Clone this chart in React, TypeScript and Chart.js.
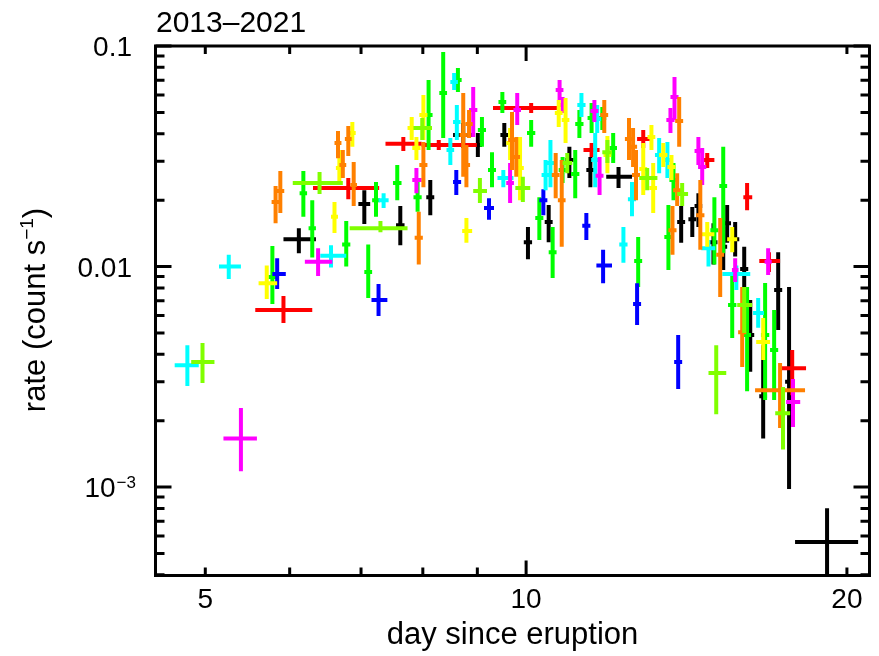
import React, { useEffect, useRef } from "react";
import {
  Chart,
  ScatterController,
  PointElement,
  LinearScale,
  LogarithmicScale,
} from "chart.js";

Chart.register(ScatterController, PointElement, LinearScale, LogarithmicScale);

// Each observation: [day, dayLo, dayHi, rate, rateLo, rateHi]
type Obs = [number, number, number, number, number, number];

const obs2013: Obs[] = [
  [6.12, 5.92, 6.35, 0.0133, 0.0115, 0.0149],
  [7.05, 6.96, 7.14, 0.0192, 0.0156, 0.0222],
  [7.62, 7.55, 7.69, 0.0154, 0.0125, 0.0188],
  [8.13, 8.06, 8.2, 0.0206, 0.0171, 0.0247],
  [8.73, 8.54, 8.9, 0.0395, 0.0345, 0.0448],
  [9.01, 8.94, 9.09, 0.0356, 0.0314, 0.0403],
  [9.54, 9.46, 9.62, 0.0395, 0.0349, 0.0448],
  [10.04, 9.95, 10.13, 0.0129, 0.0108, 0.0151],
  [10.5, 10.41, 10.59, 0.0159, 0.0129, 0.019],
  [10.98, 10.88, 11.08, 0.0304, 0.0252, 0.0349],
  [11.49, 11.39, 11.59, 0.0274, 0.0229, 0.0314],
  [12.21, 11.89, 12.57, 0.0255, 0.0227, 0.0283],
  [13.98, 13.86, 14.1, 0.0159, 0.0128, 0.0188],
  [14.32, 14.2, 14.44, 0.0164, 0.0136, 0.0186],
  [14.51, 14.39, 14.63, 0.0188, 0.0151, 0.0215],
  [14.99, 14.86, 15.12, 0.0129, 0.0102, 0.0157],
  [15.31, 15.18, 15.44, 0.0123, 0.00964, 0.0151],
  [15.44, 15.31, 15.57, 0.0157, 0.0128, 0.019],
  [15.71, 15.57, 15.85, 0.0133, 0.0111, 0.0159],
  [16.02, 15.88, 16.16, 0.00974, 0.00705, 0.0123],
  [16.23, 16.09, 16.37, 0.00489, 0.00333, 0.00705],
  [16.69, 16.55, 16.83, 0.00258, 0.00166, 0.0044],
  [17.24, 17.09, 17.39, 0.00782, 0.00515, 0.0116],
  [17.65, 17.5, 17.8, 0.003, 0.00098, 0.00807],
  [19.16, 17.88, 20.49, 0.000563, 0.00039, 0.000801],
];

const obs2014: Obs[] = [
  [5.92, 5.57, 6.3, 0.00635, 0.00555, 0.00735],
  [6.81, 6.31, 7.28, 0.0227, 0.0202, 0.0252],
  [7.67, 7.38, 7.98, 0.036, 0.0334, 0.0387],
  [8.28, 7.98, 8.99, 0.0356, 0.0338, 0.0375],
  [10.11, 9.31, 10.7, 0.0523, 0.0497, 0.0551],
  [11.52, 11.32, 11.72, 0.0338, 0.0314, 0.0363],
  [12.88, 12.71, 13.08, 0.0379, 0.0345, 0.0416],
  [14.79, 14.63, 15.02, 0.0304, 0.028, 0.0327],
  [16.12, 15.99, 16.3, 0.0206, 0.018, 0.0239],
  [16.9, 16.55, 17.31, 0.0106, 0.00945, 0.0116],
  [17.77, 17.27, 18.31, 0.00346, 0.00261, 0.00418],
];

const obs2015: Obs[] = [
  [5.78, 5.73, 5.83, 0.00896, 0.00676, 0.0124],
  [6.18, 6.13, 6.23, 0.0215, 0.0168, 0.0271],
  [6.3, 6.25, 6.35, 0.0149, 0.011, 0.02],
  [6.78, 6.72, 6.84, 0.0126, 0.01, 0.0161],
  [7.11, 7.05, 7.17, 0.00945, 0.0072, 0.0126],
  [7.23, 7.17, 7.29, 0.02, 0.0168, 0.0242],
  [7.57, 7.5, 7.64, 0.0239, 0.02, 0.0289],
  [7.91, 7.84, 7.98, 0.0206, 0.0177, 0.0242],
  [8.1, 8.03, 8.17, 0.0487, 0.0338, 0.0701],
  [8.36, 8.29, 8.43, 0.0612, 0.0383, 0.094],
  [8.63, 8.56, 8.7, 0.0701, 0.0618, 0.0795],
  [9.09, 9.01, 9.17, 0.0416, 0.0349, 0.0477],
  [9.29, 9.21, 9.37, 0.0274, 0.0229, 0.033],
  [9.5, 9.42, 9.58, 0.0557, 0.0497, 0.0618],
  [10.11, 10.02, 10.2, 0.0403, 0.0349, 0.0462],
  [10.29, 10.2, 10.38, 0.0166, 0.0132, 0.0206],
  [10.59, 10.5, 10.68, 0.0116, 0.00887, 0.0151],
  [10.82, 10.73, 10.91, 0.0274, 0.0239, 0.0314],
  [11.12, 11.02, 11.22, 0.0263, 0.0204, 0.0338],
  [11.22, 11.12, 11.32, 0.0443, 0.0383, 0.0513],
  [11.52, 11.42, 11.62, 0.0472, 0.0403, 0.0551],
  [11.79, 11.69, 11.89, 0.0472, 0.0416, 0.0529],
  [12.07, 11.97, 12.17, 0.0345, 0.0295, 0.0403],
  [12.74, 12.63, 12.85, 0.0106, 0.00807, 0.0136],
  [13.6, 13.48, 13.72, 0.0136, 0.00964, 0.019],
  [13.75, 13.63, 13.87, 0.0247, 0.02, 0.0295],
  [15.02, 14.89, 15.15, 0.0146, 0.0102, 0.0206],
  [15.31, 15.18, 15.44, 0.0232, 0.0115, 0.0349],
  [15.61, 15.47, 15.75, 0.00669, 0.00474, 0.00935],
  [16.12, 15.98, 16.26, 0.00489, 0.00272, 0.00807],
  [16.76, 16.61, 16.91, 0.00489, 0.00248, 0.00842],
  [17.09, 16.94, 17.24, 0.00418, 0.00248, 0.00635],
];

const obs2016: Obs[] = [
  [5.84, 5.78, 5.95, 0.00925, 0.0079, 0.0109],
  [7.27, 7.16, 7.41, 0.00705, 0.00597, 0.00833],
  [8.6, 8.54, 8.69, 0.0242, 0.0211, 0.0274],
  [9.23, 9.13, 9.33, 0.0184, 0.0163, 0.0204],
  [10.38, 10.29, 10.47, 0.02, 0.0171, 0.0224],
  [11.39, 11.29, 11.49, 0.0153, 0.0132, 0.0175],
  [11.81, 11.64, 12.04, 0.0101, 0.0084, 0.0119],
  [12.71, 12.6, 12.82, 0.00676, 0.00543, 0.0084],
  [13.89, 13.77, 14.01, 0.00369, 0.00278, 0.00489],
];

const obs2017: Obs[] = [
  [4.81, 4.68, 4.93, 0.00357, 0.00287, 0.0044],
  [5.26, 5.15, 5.4, 0.01, 0.00878, 0.0113],
  [6.56, 6.41, 6.78, 0.0112, 0.0099, 0.0125],
  [7.35, 7.27, 7.43, 0.02, 0.0184, 0.0215],
  [8.49, 8.42, 8.56, 0.0338, 0.0289, 0.0383],
  [8.56, 8.49, 8.63, 0.0687, 0.0632, 0.0754],
  [8.61, 8.54, 8.68, 0.0452, 0.0375, 0.054],
  [9.52, 9.4, 9.73, 0.0252, 0.0229, 0.0274],
  [10.43, 10.34, 10.52, 0.026, 0.0222, 0.0304],
  [10.54, 10.45, 10.63, 0.0295, 0.0229, 0.0375],
  [11.27, 11.17, 11.37, 0.054, 0.0477, 0.0612],
  [11.61, 11.51, 11.71, 0.0304, 0.0229, 0.0403],
  [11.66, 11.56, 11.76, 0.0467, 0.0403, 0.054],
  [12.34, 12.23, 12.45, 0.0126, 0.0104, 0.0151],
  [12.57, 12.46, 12.68, 0.0202, 0.0169, 0.0242],
  [13.33, 13.21, 13.45, 0.032, 0.0265, 0.0383],
  [13.57, 13.45, 13.69, 0.0304, 0.0252, 0.0367],
  [14.83, 14.6, 15.05, 0.0121, 0.01, 0.0132],
  [15.75, 15.28, 16.23, 0.00925, 0.00782, 0.0101],
  [16.51, 16.33, 16.72, 0.00616, 0.00527, 0.0072],
];

const obs2018: Obs[] = [
  [5.4, 5.2, 5.59, 0.00166, 0.00118, 0.00228],
  [6.38, 6.2, 6.58, 0.0105, 0.00906, 0.0121],
  [7.89, 7.82, 7.98, 0.0247, 0.0215, 0.028],
  [8.92, 8.84, 9.0, 0.0513, 0.0387, 0.0652],
  [9.66, 9.58, 9.74, 0.0239, 0.0194, 0.0295],
  [9.81, 9.73, 9.89, 0.0513, 0.0438, 0.0612],
  [10.75, 10.66, 10.84, 0.0632, 0.0569, 0.0701],
  [10.82, 10.73, 10.91, 0.054, 0.0497, 0.0587],
  [11.59, 11.49, 11.69, 0.0507, 0.0452, 0.0569],
  [11.72, 11.62, 11.82, 0.0258, 0.0211, 0.0314],
  [13.66, 13.54, 13.78, 0.0462, 0.0403, 0.0523],
  [13.78, 13.66, 13.9, 0.0587, 0.0462, 0.0724],
  [14.51, 14.39, 14.63, 0.0334, 0.0289, 0.0387],
  [14.63, 14.5, 14.76, 0.0283, 0.0234, 0.0345],
  [15.71, 15.6, 15.82, 0.00964, 0.00851, 0.0109],
  [16.87, 16.74, 17.0, 0.0105, 0.00915, 0.0121],
  [17.8, 17.54, 18.08, 0.00243, 0.00187, 0.00309],
];

const obs2019: Obs[] = [
  [5.71, 5.61, 5.84, 0.0084, 0.00712, 0.0101],
  [6.61, 6.56, 6.66, 0.0168, 0.0142, 0.0196],
  [6.68, 6.63, 6.73, 0.028, 0.0239, 0.0338],
  [6.87, 6.82, 6.92, 0.0403, 0.0349, 0.0452],
  [7.81, 7.74, 7.88, 0.0425, 0.0375, 0.0477],
  [7.89, 7.82, 7.96, 0.0345, 0.0304, 0.0387],
  [8.01, 7.94, 8.08, 0.0487, 0.0375, 0.0599],
  [8.79, 8.71, 8.9, 0.0145, 0.0128, 0.0166],
  [9.66, 9.58, 9.74, 0.0363, 0.0304, 0.0425],
  [9.87, 9.79, 9.95, 0.028, 0.02, 0.0387],
  [10.73, 10.64, 10.82, 0.0497, 0.0429, 0.0569],
  [10.89, 10.8, 10.98, 0.0462, 0.0363, 0.0581],
  [11.92, 11.82, 12.02, 0.032, 0.0265, 0.0391],
  [12.88, 12.77, 12.99, 0.0277, 0.0211, 0.0363],
  [13.11, 13.0, 13.22, 0.0387, 0.0338, 0.0438],
  [13.16, 13.05, 13.27, 0.0227, 0.0175, 0.0295],
  [13.45, 13.33, 13.57, 0.032, 0.0283, 0.0363],
  [13.69, 13.57, 13.81, 0.0283, 0.0247, 0.032],
  [14.79, 14.57, 15.02, 0.014, 0.0123, 0.0159],
  [15.61, 15.44, 15.78, 0.0133, 0.0116, 0.0151],
  [16.69, 16.44, 16.94, 0.00455, 0.00377, 0.00584],
];

const obs2020: Obs[] = [
  [5.82, 5.77, 5.87, 0.0196, 0.0157, 0.0232],
  [5.88, 5.83, 5.93, 0.022, 0.0175, 0.0271],
  [6.66, 6.61, 6.71, 0.0363, 0.031, 0.0412],
  [6.73, 6.68, 6.78, 0.0289, 0.0252, 0.0338],
  [6.81, 6.76, 6.86, 0.0379, 0.0317, 0.0434],
  [6.89, 6.84, 6.94, 0.0234, 0.0188, 0.0298],
  [7.93, 7.86, 8.0, 0.0135, 0.0102, 0.0177],
  [8.01, 7.94, 8.08, 0.0289, 0.0229, 0.0367],
  [8.73, 8.66, 8.8, 0.0395, 0.0255, 0.0612],
  [8.79, 8.72, 8.86, 0.0289, 0.0229, 0.0356],
  [8.84, 8.77, 8.91, 0.0443, 0.0383, 0.0513],
  [9.7, 9.62, 9.78, 0.0375, 0.0274, 0.0502],
  [9.79, 9.71, 9.87, 0.0314, 0.0255, 0.0387],
  [10.66, 10.57, 10.75, 0.026, 0.0204, 0.0327],
  [10.8, 10.71, 10.89, 0.02, 0.0123, 0.0304],
  [11.84, 11.74, 11.94, 0.0487, 0.0403, 0.0569],
  [12.49, 12.38, 12.6, 0.0379, 0.0304, 0.0472],
  [12.6, 12.49, 12.71, 0.0349, 0.0283, 0.0425],
  [12.68, 12.57, 12.79, 0.026, 0.02, 0.0338],
  [13.72, 13.6, 13.84, 0.0146, 0.0113, 0.0188],
  [13.86, 13.74, 13.98, 0.0222, 0.0188, 0.0265],
  [13.92, 13.8, 14.04, 0.0457, 0.0349, 0.0587],
  [14.57, 14.44, 14.7, 0.0171, 0.0119, 0.0247],
  [15.21, 15.08, 15.34, 0.0113, 0.00727, 0.0166],
  [15.95, 15.81, 16.09, 0.00504, 0.0035, 0.00807],
  [17.31, 16.4, 18.27, 0.00275, 0.00185, 0.00365],
];

const obs2021: Obs[] = [
  [4.97, 4.85, 5.1, 0.00369, 0.00296, 0.0045],
  [6.4, 6.04, 6.73, 0.0239, 0.0213, 0.0268],
  [7.3, 6.83, 7.74, 0.0149, 0.0143, 0.0161],
  [7.99, 7.84, 8.16, 0.0425, 0.0375, 0.0472],
  [9.05, 8.92, 9.19, 0.022, 0.0194, 0.0252],
  [9.93, 9.77, 10.09, 0.0227, 0.0196, 0.0255],
  [10.93, 10.82, 11.05, 0.0295, 0.0265, 0.0327],
  [11.92, 11.79, 12.04, 0.033, 0.0295, 0.0375],
  [12.99, 12.77, 13.28, 0.0252, 0.0222, 0.028],
  [14.01, 13.86, 14.19, 0.0213, 0.0188, 0.0239],
  [15.08, 14.83, 15.41, 0.00329, 0.00214, 0.0044],
  [16.02, 15.78, 16.3, 0.00669, 0.00499, 0.00807],
  [17.42, 17.13, 17.69, 0.00216, 0.00148, 0.00284],
];

const years = ["2013", "2014", "2015", "2016", "2017", "2018", "2019", "2020", "2021"];
const yearColors = [
  "#000000", "#ff0000", "#00ff00", "#0000ff", "#00ffff",
  "#ff00ff", "#ffff00", "#ff8000", "#80ff00",
];
const yearObs = [obs2013, obs2014, obs2015, obs2016, obs2017, obs2018, obs2019, obs2020, obs2021];

// Axis extents and tick marks
const dayRange = [4.49, 21.0];
const rateRange = [3.97e-4, 0.1];
const dayMajorTicks = [10];
const dayMinorTicks = [5, 6, 7, 8, 9, 20];
const dayTickLabels: [number, string][] = [[5, "5"], [10, "10"], [20, "20"]];
const rateMajorTicks = [0.001, 0.01, 0.1];
const rateMinorTicks = [
  0.0004, 0.0005, 0.0006, 0.0007, 0.0008, 0.0009,
  0.002, 0.003, 0.004, 0.005, 0.006, 0.007, 0.008, 0.009,
  0.02, 0.03, 0.04, 0.05, 0.06, 0.07, 0.08, 0.09,
];
const rateTickLabels: [number, string, string][] = [
  [0.1, "0.1", ""],
  [0.01, "0.01", ""],
  [0.001, "10", "\u22123"],
];

const TITLE = "2013\u20132021";
const X_TITLE = "day since eruption";
const Y_TITLE = ["rate (count s", "\u22121", ")"];

const FONT = '"Liberation Sans", Arial, Helvetica, sans-serif';

const framePlugin = {
  id: "qdpFrame",
  afterDatasetsDraw(chart: any) {
    const { ctx, chartArea: a, scales } = chart;
    const xs = scales.x;
    const ys = scales.y;

    // error crosses
    ctx.save();
    ctx.beginPath();
    ctx.rect(a.left, a.top, a.right - a.left, a.bottom - a.top);
    ctx.clip();
    ctx.lineWidth = 4;
    ctx.lineCap = "butt";
    chart.data.datasets.forEach((ds: any) => {
      ctx.strokeStyle = ds.borderColor;
      ds.data.forEach((p: any) => {
        const cx = xs.getPixelForValue(p.x);
        const cy = ys.getPixelForValue(p.y);
        ctx.beginPath();
        ctx.moveTo(xs.getPixelForValue(p.xMin), cy);
        ctx.lineTo(xs.getPixelForValue(p.xMax), cy);
        ctx.moveTo(cx, ys.getPixelForValue(p.yMax));
        ctx.lineTo(cx, ys.getPixelForValue(p.yMin));
        ctx.stroke();
      });
    });
    ctx.restore();

    // frame with inward ticks on all sides
    ctx.save();
    ctx.strokeStyle = "#000";
    ctx.lineWidth = 3;
    ctx.lineCap = "butt";
    ctx.strokeRect(a.left, a.top, a.right - a.left, a.bottom - a.top);
    ctx.beginPath();
    const xTick = (v: number, len: number) => {
      const px = xs.getPixelForValue(v);
      ctx.moveTo(px, a.bottom);
      ctx.lineTo(px, a.bottom - len);
      ctx.moveTo(px, a.top);
      ctx.lineTo(px, a.top + len);
    };
    const yTick = (v: number, len: number) => {
      const py = ys.getPixelForValue(v);
      ctx.moveTo(a.left, py);
      ctx.lineTo(a.left + len, py);
      ctx.moveTo(a.right, py);
      ctx.lineTo(a.right - len, py);
    };
    dayMajorTicks.forEach((v) => xTick(v, 15));
    dayMinorTicks.forEach((v) => xTick(v, 8));
    rateMajorTicks.forEach((v) => yTick(v, 16));
    rateMinorTicks.forEach((v) => yTick(v, 9));
    ctx.stroke();

    // tick labels
    ctx.fillStyle = "#000";
    ctx.font = `28px ${FONT}`;
    ctx.textBaseline = "alphabetic";
    ctx.textAlign = "center";
    dayTickLabels.forEach(([v, t]) => {
      ctx.fillText(t, xs.getPixelForValue(v), a.bottom + 32.5);
    });
    rateTickLabels.forEach(([v, base, sup]) => {
      const py = ys.getPixelForValue(v);
      const right = 134;
      if (sup) {
        ctx.font = `17px ${FONT}`;
        ctx.textAlign = "right";
        ctx.fillText(sup, right + 2, py + 1);
        const sw = ctx.measureText(sup).width;
        ctx.font = `28px ${FONT}`;
        ctx.fillText(base, right + 1 - sw, py + 10);
      } else {
        ctx.font = `28px ${FONT}`;
        ctx.textAlign = "right";
        ctx.fillText(base, right - 2, py + 10);
      }
    });

    // title
    ctx.font = `30px ${FONT}`;
    ctx.textAlign = "left";
    ctx.fillText(TITLE, 156, 32);

    // x-axis title
    ctx.font = `31px ${FONT}`;
    ctx.textAlign = "center";
    ctx.fillText(X_TITLE, (a.left + a.right) / 2, 644);

    // y-axis title, rotated, with superscript
    ctx.save();
    ctx.translate(45, 310);
    ctx.rotate(-Math.PI / 2);
    ctx.textAlign = "left";
    ctx.font = `31px ${FONT}`;
    const w0 = ctx.measureText(Y_TITLE[0]).width;
    const w2 = ctx.measureText(Y_TITLE[2]).width;
    ctx.font = `19px ${FONT}`;
    const w1 = ctx.measureText(Y_TITLE[1]).width;
    let x0 = -(w0 + w1 + w2) / 2;
    ctx.font = `31px ${FONT}`;
    ctx.fillText(Y_TITLE[0], x0, 0);
    x0 += w0;
    ctx.font = `19px ${FONT}`;
    ctx.fillText(Y_TITLE[1], x0, -12);
    x0 += w1;
    ctx.font = `31px ${FONT}`;
    ctx.fillText(Y_TITLE[2], x0, 0);
    ctx.restore();

    ctx.restore();
  },
};

export default function App() {
  const canvasRef = useRef<HTMLCanvasElement | null>(null);

  useEffect(() => {
    const canvas = canvasRef.current;
    if (!canvas) return;
    const datasets = years.map((label, i) => ({
      label,
      borderColor: yearColors[i],
      backgroundColor: yearColors[i],
      pointRadius: 0,
      showLine: false,
      data: yearObs[i].map(([x, xMin, xMax, y, yMin, yMax]) => ({ x, xMin, xMax, y, yMin, yMax })),
    }));
    const chart = new Chart(canvas, {
      type: "scatter",
      data: { datasets },
      options: {
        responsive: false,
        animation: false,
        devicePixelRatio: 1,
        layout: { padding: { left: 155.5, top: 46, right: 9.5, bottom: 80.5 } },
        scales: {
          x: { type: "logarithmic", display: false, min: dayRange[0], max: dayRange[1] },
          y: { type: "logarithmic", display: false, min: rateRange[0], max: rateRange[1] },
        },
        plugins: { legend: { display: false }, tooltip: { enabled: false } },
        events: [],
      },
      plugins: [framePlugin],
    });
    return () => chart.destroy();
  }, []);

  return (
    <div style={{ position: "absolute", left: 0, top: 0, width: 879, height: 656, background: "#fff" }}>
      <canvas ref={canvasRef} width={879} height={656} style={{ width: 879, height: 656, display: "block" }} />
    </div>
  );
}
